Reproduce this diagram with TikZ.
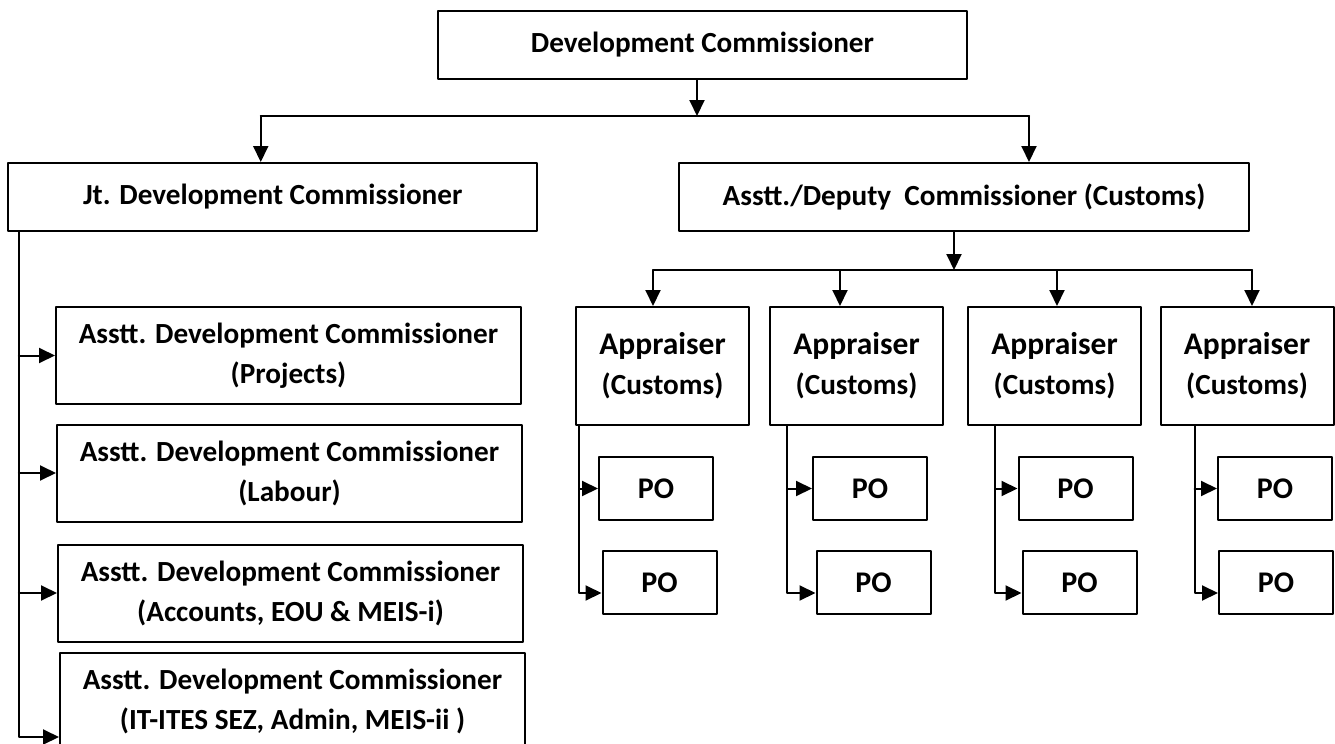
\documentclass[tikz,border=0pt]{standalone}
\usepackage{fontspec}
\setmainfont{Carlito}
\usetikzlibrary{arrows.meta}

\begin{document}
\begin{tikzpicture}[line cap=round,line join=round,>={Triangle[length=8pt,width=7.5pt]},x=0.5pt,y=-0.5pt,
  box/.style={draw,line width=1pt,align=center,inner sep=0pt,font=\bfseries\fontsize{14.6}{20}\selectfont},
  adcbox/.style={box,minimum width=232.5pt,minimum height=48.5pt},
  apbox/.style={box,minimum width=86.5pt,minimum height=59pt},
  pobox/.style={box,minimum width=57pt,minimum height=31.5pt,font=\bfseries\fontsize{15}{18}\selectfont},
  conn/.style={line width=1pt}]
\useasboundingbox (0,0) rectangle (1335,744);
% top
\node[box,minimum width=264.5pt,minimum height=34pt] (dc) at (702.5,45) {Development Commissioner};
\node[box,minimum width=264.5pt,minimum height=34pt] (jdc) at (272.75,197) {Jt. Development Commissioner};
\node[box,minimum width=285pt,minimum height=34pt] (acc) at (964,197) {Asstt./Deputy\ \ Commissioner (Customs)};
\coordinate (split) at (697,116);
\draw[conn,->] ([xshift=-2.75pt]dc.south) -- (split);
\coordinate (jl) at ([xshift=-6pt]jdc.north);
\coordinate (cl) at ([xshift=32.5pt]acc.north);
\draw[conn,->] (jl |- split) -- (jl);
\draw[conn,->] (cl |- split) -- (cl);
\draw[conn] (jl |- split) -- (cl |- split);
%
% left column
\node[adcbox] (adc1) at (288.5,355.5) {Asstt. Development Commissioner\\(Projects)};
\node[adcbox] (adc2) at (289.5,473) {Asstt. Development Commissioner\\(Labour)};
\node[adcbox] (adc3) at (290.5,593) {Asstt. Development Commissioner\\(Accounts, EOU \& MEIS-i)};
\node[adcbox] (adc4) at (292.5,701.5) {Asstt. Development Commissioner\\(IT-ITES SEZ, Admin, MEIS-ii )};
\coordinate (trunk) at ([xshift=5.75pt]jdc.south west);
\draw[conn,->] (trunk) |- ([yshift=-17.75pt]adc4.west);
\draw[conn,->] (trunk |- adc1.west) -- (adc1.west);
\draw[conn,->] (trunk |- adc2.west) -- (adc2.west);
\draw[conn,->] (trunk |- adc3.west) -- (adc3.west);
%
% customs side
\coordinate (bus) at (954,270);
\draw[conn,->] ([xshift=-5pt]acc.south) -- (bus);
\node[apbox] (ap1) at (662.5,366) {{\fontsize{15.75}{22.5}\selectfont Appraiser}\\{\fontsize{14.6}{22.5}\selectfont (Customs)}};
\node[apbox] (ap2) at (856.5,366) {{\fontsize{15.75}{22.5}\selectfont Appraiser}\\{\fontsize{14.6}{22.5}\selectfont (Customs)}};
\node[apbox] (ap3) at (1054.5,366) {{\fontsize{15.75}{22.5}\selectfont Appraiser}\\{\fontsize{14.6}{22.5}\selectfont (Customs)}};
\node[apbox] (ap4) at (1247,366) {{\fontsize{15.75}{22.5}\selectfont Appraiser}\\{\fontsize{14.6}{22.5}\selectfont (Customs)}};
\coordinate (b1) at ([xshift=-4.75pt]ap1.north);
\coordinate (b2) at ([xshift=-8.25pt]ap2.north);
\coordinate (b3) at ([xshift=1.25pt]ap3.north);
\coordinate (b4) at ([xshift=2.5pt]ap4.north);
\draw[conn] (b1 |- bus) -- (b4 |- bus);
\draw[conn,->] (b1 |- bus) -- (b1);
\draw[conn,->] (b2 |- bus) -- (b2);
\draw[conn,->] (b3 |- bus) -- (b3);
\draw[conn,->] (b4 |- bus) -- (b4);
%
\node[pobox] (po1a) at (656,488.5) {PO};
\node[pobox] (po1b) at (659.5,582.5) {PO};
\node[pobox] (po2a) at (870,488.5) {PO};
\node[pobox] (po2b) at (873.5,582.5) {PO};
\node[pobox] (po3a) at (1075.5,488.5) {PO};
\node[pobox] (po3b) at (1079.5,582.5) {PO};
\node[pobox] (po4a) at (1275,488.5) {PO};
\node[pobox] (po4b) at (1276,582.5) {PO};
\coordinate (t1) at ([xshift=2pt]ap1.south west);
\coordinate (t2) at ([xshift=9pt]ap2.south west);
\coordinate (t3) at ([xshift=14pt]ap3.south west);
\coordinate (t4) at ([xshift=17.5pt]ap4.south west);
\draw[conn,->] (t1) |- ([yshift=-5.25pt]po1b.west);
\draw[conn,->] (t1 |- po1a.west) -- (po1a.west);
\draw[conn,->] (t2) |- ([yshift=-5.25pt]po2b.west);
\draw[conn,->] (t2 |- po2a.west) -- (po2a.west);
\draw[conn,->] (t3) |- ([yshift=-5.25pt]po3b.west);
\draw[conn,->] (t3 |- po3a.west) -- (po3a.west);
\draw[conn,->] (t4) |- ([yshift=-5.25pt]po4b.west);
\draw[conn,->] (t4 |- po4a.west) -- (po4a.west);
\end{tikzpicture}
\end{document}
